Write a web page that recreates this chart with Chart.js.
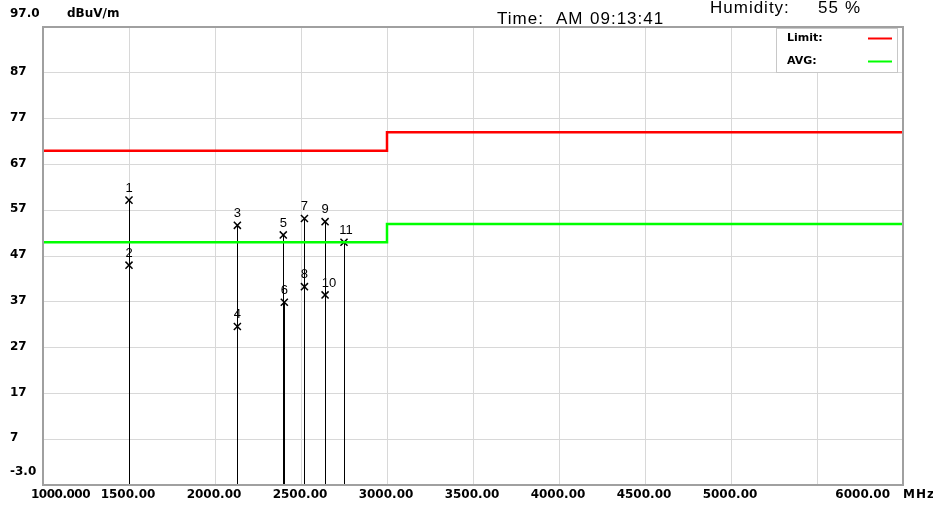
<!DOCTYPE html>
<html>
<head>
<meta charset="utf-8">
<script src="https://cdn.jsdelivr.net/npm/chart.js@4.4.1/dist/chart.umd.min.js"></script>
<style>
  html, body { margin: 0; padding: 0; background: #fff; }
  canvas { display: block; }
</style>
</head>
<body>
<canvas id="emiChart" width="933" height="509"></canvas>
<script>
// limit / average lines (frequency in MHz, level in dBuV/m)
const limitFreq = [1000, 3000, 3000, 6000];
const limitLevel = [70, 70, 74, 74];
const avgFreq = [1000, 3000, 3000, 6000];
const avgLevel = [50, 50, 54, 54];

// measured peaks
const peakNo = ['1', '2', '3', '4', '5', '6', '7', '8', '9', '10', '11'];
const peakFreq = [1500, 1500, 2130, 2130, 2397, 2403, 2520, 2520, 2640, 2640, 2750];
const peakLevel = [59.2, 45.0, 53.7, 31.6, 51.6, 36.9, 55.2, 40.3, 54.5, 38.5, 50.0];

// axes
const xGrid = [1000, 1500, 2000, 2500, 3000, 3500, 4000, 4500, 5000, 5500, 6000];
const xTickValues = [1000, 1500, 2000, 2500, 3000, 3500, 4000, 4500, 5000, 6000];
const xTickLabels = ['1000.000', '1500.00', '2000.00', '2500.00', '3000.00', '3500.00', '4000.00', '4500.00', '5000.00', '6000.00'];
const yTickValues = [-3, 7, 17, 27, 37, 47, 57, 67, 77, 87, 97];
const yTickLabels = ['-3.0', '7', '17', '27', '37', '47', '57', '67', '77', '87', '97.0'];

const axisFont = 'bold 12px "DejaVu Sans"';

const toPoints = (xs, ys) => xs.map((v, i) => ({ x: v, y: ys[i] }));

const reportDecor = {
    id: 'reportDecor',
    beforeDatasetsDraw(chart) {
        const { ctx, chartArea: a, scales: { x, y } } = chart;
        // drop lines from each peak to the bottom of the plot
        ctx.save();
        ctx.strokeStyle = '#000';
        ctx.lineWidth = 1;
        peakFreq.forEach((f, i) => {
            const px = Math.round(x.getPixelForValue(f)) + 0.5;
            ctx.beginPath();
            ctx.moveTo(px, y.getPixelForValue(peakLevel[i]));
            ctx.lineTo(px, a.bottom);
            ctx.stroke();
        });
        ctx.restore();
    },
    afterDatasetsDraw(chart) {
        const { ctx, chartArea: a, scales: { x, y } } = chart;
        ctx.save();

        // frame
        ctx.strokeStyle = '#a0a0a0';
        ctx.lineWidth = 2;
        ctx.strokeRect(a.left, a.top, a.right - a.left, a.bottom - a.top);

        // peak numbers
        ctx.fillStyle = '#000';
        ctx.font = '13px "Liberation Sans"';
        ctx.textAlign = 'center';
        ctx.textBaseline = 'middle';
        peakNo.forEach((n, i) => {
            const px = x.getPixelForValue(peakFreq[i]);
            const py = y.getPixelForValue(peakLevel[i]);
            const dx = n === '10' ? 4 : (n.length > 1 ? 2 : 0);
            ctx.fillText(n, px + dx, py - 12);
        });

        // y tick labels
        ctx.font = axisFont;
        ctx.textAlign = 'left';
        yTickValues.forEach((v, i) => {
            let py = y.getPixelForValue(v) - 1;
            if (i === 0) py -= 12;
            if (i === yTickValues.length - 1) py -= 12;
            ctx.fillText(yTickLabels[i], 10, py);
        });
        ctx.fillText('dBuV/m', 67, 14);

        // x tick labels
        xTickValues.forEach((v, i) => {
            const px = x.getPixelForValue(v);
            if (i === 0) {
                ctx.textAlign = 'left';
                ctx.letterSpacing = '-0.5px';
                ctx.fillText(xTickLabels[i], px - 12, 495);
                ctx.letterSpacing = '0px';
            } else if (i === xTickValues.length - 1) {
                ctx.textAlign = 'right';
                ctx.fillText(xTickLabels[i], px - 13, 495);
            } else {
                ctx.textAlign = 'center';
                ctx.fillText(xTickLabels[i], px - 1, 495);
            }
        });
        ctx.textAlign = 'left';
        ctx.letterSpacing = '1px';
        ctx.fillText('MHz', a.right, 495);
        ctx.letterSpacing = '0px';

        // legend box
        ctx.font = 'bold 11px "DejaVu Sans"';
        ctx.fillStyle = '#fff';
        ctx.fillRect(776, 28, 121, 44);
        ctx.strokeStyle = '#c8c8c8';
        ctx.lineWidth = 1;
        ctx.strokeRect(776.5, 28.5, 121, 44);
        ctx.fillStyle = '#000';
        chart.data.datasets.slice(0, 2).forEach((ds, i) => {
            const ly = 38.5 + i * 23;
            ctx.fillText(ds.label + ':', 787, ly);
            ctx.strokeStyle = ds.borderColor;
            ctx.lineWidth = 2;
            ctx.beginPath();
            ctx.moveTo(868, ly);
            ctx.lineTo(892, ly);
            ctx.stroke();
        });

        // header text
        ctx.font = '17px "Liberation Sans"';
        ctx.textBaseline = 'alphabetic';
        ctx.letterSpacing = '1px';
        ctx.fillText('Time:', 497, 24);
        ctx.fillText('AM', 556, 24);
        ctx.fillText('09:13:41', 590, 24);
        ctx.fillText('Humidity:', 710, 13);
        ctx.fillText('55', 818, 13);
        ctx.fillText('%', 845, 13);
        ctx.restore();
    }
};

const ctx = document.getElementById('emiChart').getContext('2d');

new Chart(ctx, {
    type: 'scatter',
    data: {
        datasets: [{
            label: 'Limit',
            type: 'line',
            data: toPoints(limitFreq, limitLevel),
            borderColor: '#ff0000',
            borderWidth: 2.5,
            pointRadius: 0,
            fill: false
        }, {
            label: 'AVG',
            type: 'line',
            data: toPoints(avgFreq, avgLevel),
            borderColor: '#00ff00',
            borderWidth: 2.5,
            pointRadius: 0,
            fill: false
        }, {
            label: 'Peaks',
            data: toPoints(peakFreq, peakLevel),
            pointStyle: 'crossRot',
            pointRadius: 5,
            borderColor: '#000',
            backgroundColor: '#000',
            borderWidth: 1.5
        }]
    },
    options: {
        responsive: false,
        animation: false,
        layout: { padding: { left: 43, top: 27, right: 30, bottom: 24 } },
        plugins: {
            legend: { display: false },
            tooltip: { enabled: false }
        },
        scales: {
            x: {
                type: 'linear',
                min: 1000,
                max: 6000,
                afterBuildTicks: s => { s.ticks = xGrid.map(v => ({ value: v })); },
                ticks: { display: false },
                grid: { color: '#d8d8d8', lineWidth: 1, drawTicks: false },
                border: { display: false }
            },
            y: {
                type: 'linear',
                min: -3,
                max: 97,
                afterBuildTicks: s => { s.ticks = yTickValues.map(v => ({ value: v })); },
                ticks: { display: false },
                grid: { color: '#d8d8d8', lineWidth: 1, drawTicks: false },
                border: { display: false }
            }
        }
    },
    plugins: [reportDecor]
});
</script>
</body>
</html>
